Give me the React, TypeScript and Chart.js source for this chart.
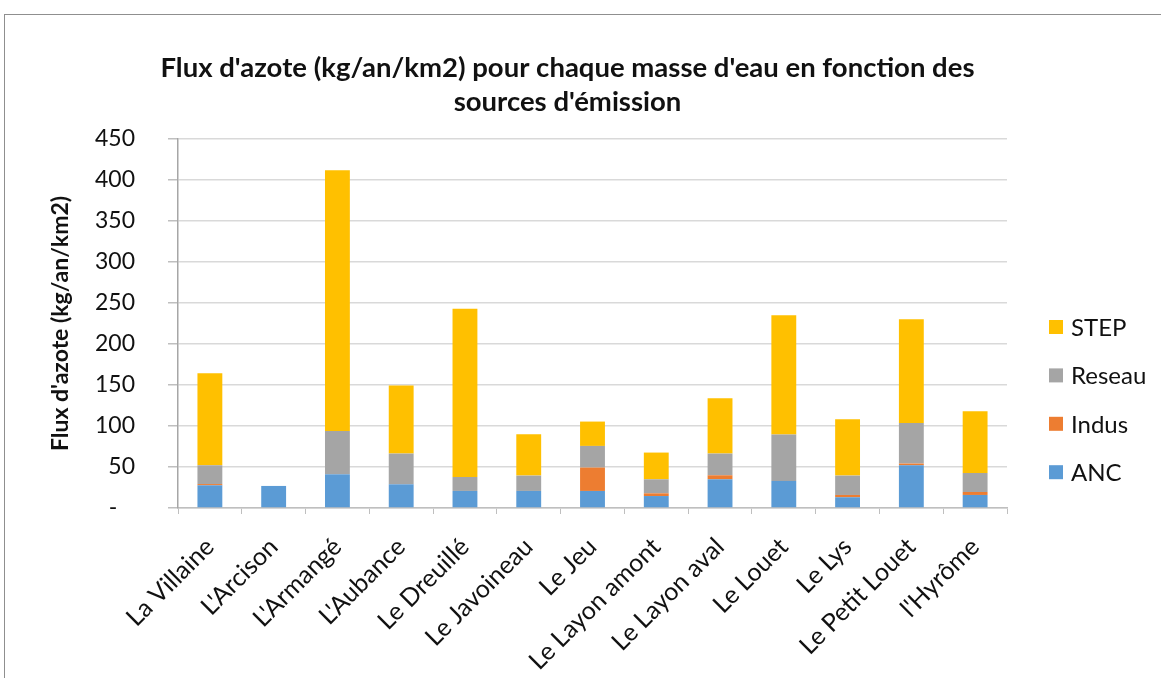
import React, { useEffect, useRef } from 'react';
import { Chart, registerables } from 'chart.js';

Chart.register(...registerables);

const categories = [
  'La Villaine', "L'Arcison", "L'Armangé", "L'Aubance", 'Le Dreuillé', 'Le Javoineau', 'Le Jeu',
  'Le Layon amont', 'Le Layon aval', 'Le Louet', 'Le Lys', 'Le Petit Louet', "l'Hyrôme",
];
const ancValues = [27.7, 26.9, 41.1, 28.9, 20.8, 20.8, 20.8, 14.6, 35.0, 33.0, 13.1, 52.1, 15.9];
const indusValues = [1.5, 0, 0, 0, 0, 0, 28.5, 3.3, 4.9, 0, 2.8, 2.1, 3.6];
const reseauValues = [22.9, 0, 52.9, 37.5, 17.0, 18.7, 26.4, 17.1, 26.5, 56.6, 23.6, 49.6, 23.2];
const stepValues = [112.3, 0, 317.8, 83.0, 205.1, 50.5, 29.7, 32.6, 67.5, 145.6, 68.8, 126.5, 75.3];

const seriesNames = ['ANC', 'Indus', 'Reseau', 'STEP'];
const seriesColors = ['#5B9BD5', '#ED7D31', '#A5A5A5', '#FFC000'];

const yMin = 0;
const yMax = 450;
const yStep = 50;
const zeroTickLabel = '-   ';

const titleLines = [
  "Flux d'azote (kg/an/km2) pour chaque masse d'eau en fonction des",
  "sources d'émission",
];
const yAxisTitle = "Flux d'azote (kg/an/km2)";

const FONT = 'Lato, "Open Sans", sans-serif';
const TEXT = '#111111';

const rightLegend = {
  id: 'rightLegend',
  afterDraw(chart: any) {
    const { ctx, chartArea } = chart;
    const ds = chart.data.datasets;
    ctx.save();
    ctx.font = `24px ${FONT}`;
    ctx.textBaseline = 'middle';
    ctx.textAlign = 'left';
    let k = 0;
    for (let i = ds.length - 1; i >= 0; i--, k++) {
      const cy = chartArea.top + 188 + k * 48.4;
      const x = chartArea.right + 42;
      ctx.fillStyle = ds[i].backgroundColor;
      ctx.fillRect(x, cy - 7, 14, 14);
      ctx.fillStyle = TEXT;
      ctx.fillText(ds[i].label, x + 22, cy + 1);
    }
    ctx.restore();
  },
};

export default function App() {
  const ref = useRef<HTMLCanvasElement | null>(null);

  useEffect(() => {
    if (!ref.current) return;
    const values = [ancValues, indusValues, reseauValues, stepValues];
    const chart = new Chart(ref.current, {
      type: 'bar',
      data: {
        labels: categories,
        datasets: seriesNames.map((name, i) => ({
          label: name,
          data: values[i],
          backgroundColor: seriesColors[i],
          borderWidth: 0,
          categoryPercentage: 1,
          barPercentage: 0.39,
        })),
      },
      options: {
        responsive: false,
        animation: false,
        layout: { padding: { left: 0, right: 26, top: 0, bottom: 0 } },
        plugins: {
          legend: { display: false },
          tooltip: { enabled: false },
          title: {
            display: true,
            text: titleLines,
            color: TEXT,
            font: { family: FONT, size: 27.5, weight: 'bold', lineHeight: '34px' },
            padding: { top: 51, bottom: 20 },
          },
        },
        scales: {
          x: {
            stacked: true,
            grid: { drawOnChartArea: false, drawTicks: true, tickLength: 6, color: '#bfbfbf', offset: true },
            border: { color: '#bfbfbf', width: 1.5 },
            ticks: {
              minRotation: 45,
              maxRotation: 45,
              autoSkip: false,
              color: TEXT,
              padding: 18,
              font: { family: FONT, size: 25 },
            },
            afterFit: (s: any) => { s.height = 170; },
          },
          y: {
            stacked: true,
            min: yMin,
            max: yMax,
            grid: { color: '#d9d9d9', lineWidth: 1.5, tickLength: 10, tickColor: '#bfbfbf' },
            border: { color: '#a6a6a6', width: 1.5 },
            ticks: {
              stepSize: yStep,
              padding: 33,
              color: TEXT,
              font: { family: FONT, size: 23 },
              callback: (v: any) => (Number(v) === 0 ? zeroTickLabel : String(v)),
            },
            title: {
              display: true,
              text: yAxisTitle,
              color: TEXT,
              font: { family: FONT, size: 23, weight: 'bold' },
              padding: { top: 47, bottom: 0 },
            },
            afterFit: (s: any) => { s.width = 178; },
          },
          yR: {
            type: 'linear',
            position: 'right',
            display: true,
            grid: { display: false },
            border: { display: false },
            ticks: { display: false },
            afterFit: (s: any) => { s.width = 128; },
          },
        },
      },
      plugins: [rightLegend],
    } as any);
    return () => chart.destroy();
  }, []);

  return (
    <div style={{ position: 'absolute', left: 0, top: 0, width: 1161, height: 678, overflow: 'hidden', background: '#fff' }}>
      <div
        style={{
          position: 'absolute', left: 4, top: 14, width: 1157, height: 664,
          borderLeft: '1px solid #8f8f8f', borderTop: '1px solid #8f8f8f', boxSizing: 'border-box',
        }}
      />
      <canvas ref={ref} width={1161} height={678} style={{ position: 'absolute', left: 0, top: 0, width: 1161, height: 678 }} />
    </div>
  );
}
